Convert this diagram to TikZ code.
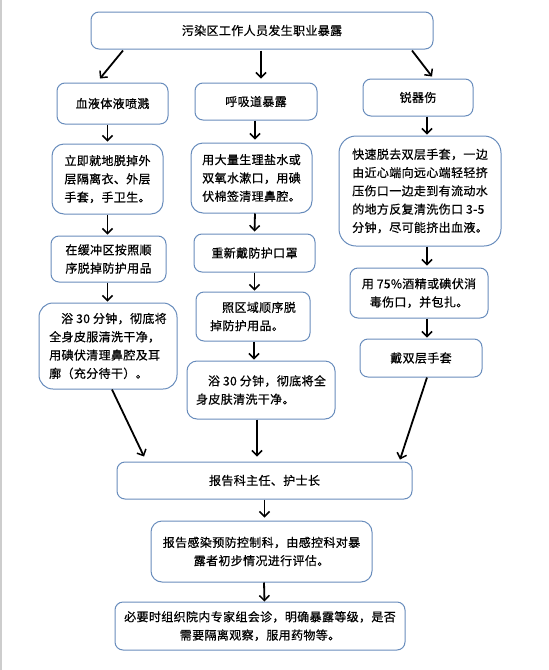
\documentclass[tikz,border=0pt]{standalone}
\usepackage{fontspec}
\newfontfamily\cjk{Noto Sans CJK SC}[LetterSpace=3,FakeBold=0.6]
\usetikzlibrary{arrows.meta}
\definecolor{bc}{RGB}{104,140,188}
\definecolor{edgegray}{RGB}{205,205,205}
\tikzset{
  box/.style={draw=bc, line width=1pt, rounded corners=8pt, inner sep=0pt, align=center,
    font=\cjk\fontsize{12pt}{18.3pt}\selectfont},
  boxl/.style={box, align=left},
  arr/.style={line width=1.8pt, -{Straight Barb[length=5pt,width=10pt,line width=1.5pt]}},
}
\begin{document}
\begin{tikzpicture}[x=1pt,y=-1pt]
\useasboundingbox (0,0) rectangle (549,670);
\draw[edgegray, line width=1.5pt] (0.75,0) -- (0.75,670);

\node[box, minimum width=342pt, minimum height=37pt] (top) at (262,30.5) {污染区工作人员发生职业暴露};

\node[box, minimum width=111pt, minimum height=41pt] (b1) at (112.5,103.5) {血液体液喷溅};
\node[box, minimum width=122pt, minimum height=37pt] (r1) at (256,101.5) {呼吸道暴露};
\node[box, minimum width=110pt, minimum height=37pt] (s1) at (418,97.5) {锐器伤};

\node[boxl, rounded corners=12pt, minimum width=111pt, minimum height=70pt] (b2) at (107.5,179) {立即就地脱掉外\\层隔离衣、外层\\手套，手卫生。};
\node[boxl, rounded corners=12pt, minimum width=121pt, minimum height=70pt] (r2) at (251.5,178) {用大量生理盐水或\\双氧水漱口，用碘\\伏棉签清理鼻腔。};
\node[boxl, rounded corners=17pt, minimum width=162pt, minimum height=110pt] (s2) at (420,191) {快速脱去双层手套，一边\\由近心端向远心端轻轻挤\\压伤口一边走到有流动水\\的地方反复清洗伤口 3-5\\分钟，尽可能挤出血液。};

\node[boxl, minimum width=115pt, minimum height=46pt] (b3) at (108.5,259) {在缓冲区按照顺\\序脱掉防护用品};
\node[boxl, rounded corners=14pt, minimum width=138pt, minimum height=86pt] (b4) at (108,346) {\hspace*{1em}浴 30 分钟，彻底将\\全身皮服清洗干净，\\用碘伏清理鼻腔及耳\\廓（充分待干）。};

\node[box, minimum width=121pt, minimum height=38pt] (r3) at (254.5,253) {重新戴防护口罩};
\node[boxl, minimum width=114pt, minimum height=49pt] (r4) at (253,316.5) {\hspace*{1em}照区域顺序脱\\掉防护用品。};
\node[boxl, rounded corners=10pt, minimum width=148pt, minimum height=58pt] (r5) at (261,390) {\hspace*{1em}浴 30 分钟，彻底将全\\身皮肤清洗干净。};

\node[box, minimum width=138pt, minimum height=50pt] (s3) at (419,293) {用 75\%酒精或碘伏消\\毒伤口，并包扎。};
\node[box, minimum width=122pt, minimum height=38pt] (s4) at (421,358) {戴双层手套};

\node[box, minimum width=295pt, minimum height=37pt] (rep) at (264.5,480.5) {报告科主任、护士长};
\node[box, rounded corners=11pt, minimum width=221pt, minimum height=61pt] (inf) at (261.5,551.5) {报告感染预防控制科，由感控科对暴\\露者初步情况进行评估。};
\node[box, minimum width=290pt, minimum height=48pt] (nec) at (260,626) {必要时组织院内专家组会诊，明确暴露等级，是否\\需要隔离观察，服用药物等。};

% arrows from the top box
\draw[arr] ([xshift=-139pt,yshift=-1pt]top.south) -- ([xshift=-12.5pt,yshift=4pt]b1.north);
\draw[arr] ([xshift=-1pt,yshift=-1pt]top.south) -- ([xshift=5pt,yshift=4pt]r1.north);
\draw[arr] ([xshift=150pt,yshift=-1pt]top.south) -- ([xshift=14pt,yshift=2pt]s1.north);

% left column
\draw[arr] (b1.south -| b2.north) -- ([yshift=2pt]b2.north);
\draw[arr] (b2.south) -- ([yshift=1pt]b3.north -| b2.south);
\draw[arr] (b3.south -| b2.south) -- ([yshift=1pt]b4.north -| b2.south);

% middle column
\draw[arr] ([xshift=-1pt]r1.south) -- ([xshift=3.5pt,yshift=3pt]r2.north);
\draw[arr] ([xshift=3.5pt]r2.south) -- ([yshift=2pt]r3.north);
\draw[arr] (r3.south) -- ([yshift=1pt]r4.north -| r3.south);
\draw[arr] ([xshift=1pt]r4.south) -- ([xshift=-7pt,yshift=1pt]r5.north);

% right column
\draw[arr] ([xshift=9pt]s1.south) -- ([xshift=7pt,yshift=1pt]s2.north);
\draw[arr] ([xshift=7pt]s2.south) -- ([xshift=8pt,yshift=2pt]s3.north);
\draw[arr] ([xshift=8pt]s3.south) -- ([xshift=6pt,yshift=1pt]s4.north);

% converging arrows
\draw[arr] ([xshift=4pt]b4.south) -- ([xshift=-120.5pt,yshift=5pt]rep.north);
\draw[arr] ([xshift=-4pt]r5.south) -- ([xshift=-7.5pt,yshift=5pt]rep.north);
\draw[arr] ([xshift=6pt]s4.south) -- ([xshift=135.5pt,yshift=2pt]rep.north);

% bottom column
\draw[arr] (rep.south) -- ([yshift=3pt]inf.north -| rep.south);
\draw[arr] ([xshift=2.5pt]inf.south) -- (nec.north -| rep.south);
\end{tikzpicture}
\end{document}
